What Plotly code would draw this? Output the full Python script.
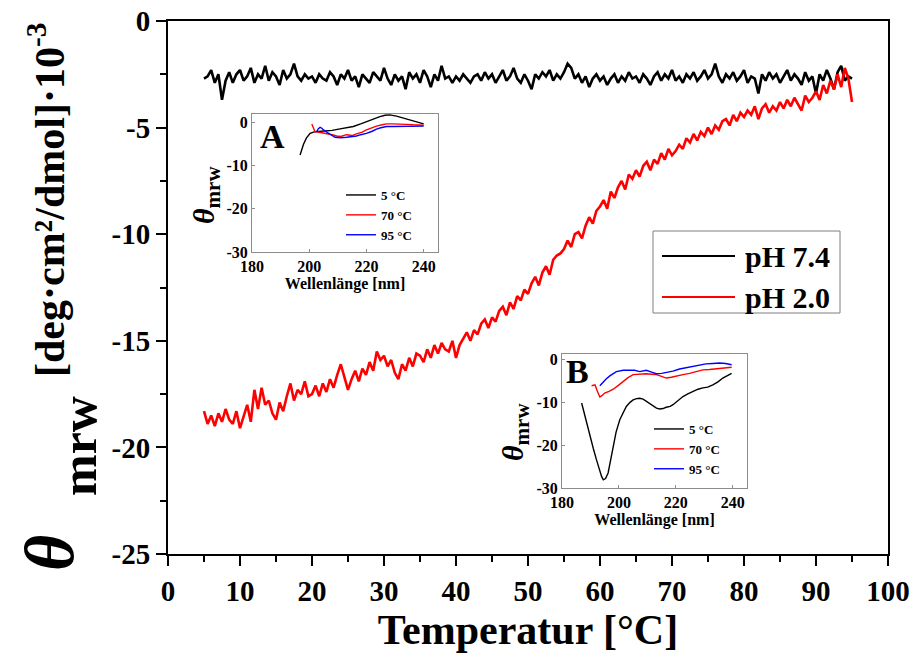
import numpy as np
import plotly.graph_objects as go

# ---------------- main data: theta_mrw vs temperature ----------------
temperature = np.arange(5.0, 95.01, 0.5)

ph74 = [
    -2.7, -2.6, -2.3, -2.9, -2.5, -3.7, -2.8, -2.4, -2.9, -2.5,
    -2.3, -2.8, -2.6, -2.2, -2.9, -2.5, -2.7, -2.1, -2.8, -2.4,
    -2.6, -3.0, -2.3, -2.7, -2.5, -2.0, -2.6, -2.8, -2.5, -2.7,
    -2.6, -2.9, -2.5, -2.7, -2.8, -2.4, -2.6, -3.0, -2.5, -2.7,
    -2.3, -2.8, -2.6, -3.1, -2.5, -2.7, -2.9, -2.4, -2.6, -2.8,
    -2.2, -2.7, -3.0, -2.5, -2.8, -2.6, -3.2, -2.4, -2.7, -2.5,
    -2.9, -2.3, -2.6, -3.1, -2.5, -2.8, -2.1, -2.7, -2.6, -2.9,
    -2.6, -2.8, -2.5, -2.7, -2.9, -2.6, -2.5, -2.8, -2.4, -2.7,
    -2.5, -2.9, -2.6, -2.3, -2.8, -2.6, -2.2, -2.7, -2.9, -2.5,
    -2.8, -3.2, -2.5, -2.7, -2.4, -2.6, -2.3, -2.8, -2.5, -2.7,
    -2.4, -2.0, -2.2, -2.7, -2.5, -2.9, -2.6, -3.1, -2.7, -2.5,
    -2.8, -2.6, -3.0, -2.7, -2.5, -2.9, -2.6, -2.8, -2.4, -2.7,
    -2.6, -2.9, -2.5, -2.7, -3.0, -2.6, -2.4, -2.8, -2.5, -2.7,
    -2.3, -2.8, -2.6, -2.9, -2.5, -2.7, -2.4, -2.8, -2.6, -2.3,
    -2.7, -2.5, -2.0, -2.6, -2.9, -2.5, -2.7, -2.4, -2.8, -2.6,
    -2.3, -2.9, -2.6, -2.7, -3.4, -2.5, -2.8, -2.4, -2.7, -2.5,
    -2.9, -2.6, -2.3, -2.8, -2.5, -2.7, -3.0, -2.4, -2.8, -2.6,
    -3.4, -2.5, -2.8, -2.3, -2.7, -3.2, -2.4, -2.1, -2.8, -2.6,
    -2.7,
]

ph20 = [
    -18.3, -18.9, -18.5, -19.0, -18.4, -18.8, -18.2, -18.7, -18.9, -18.3,
    -19.1, -18.6, -18.0, -18.8, -17.3, -18.2, -17.2, -18.0, -17.8, -18.4,
    -18.7, -17.9, -18.3, -17.6, -17.0, -17.8, -17.3, -17.5, -16.9, -17.6,
    -17.5, -17.1, -17.6, -17.0, -17.4, -16.8, -17.2, -16.6, -16.1, -16.7,
    -17.3, -16.8, -16.4, -16.9, -16.3, -16.6, -16.0, -16.4, -15.5, -15.9,
    -15.7, -16.2, -15.9, -16.5, -16.8, -16.1, -16.4, -15.8, -16.2, -15.6,
    -15.7, -16.0, -15.4, -15.8, -15.2, -15.6, -15.1, -15.4, -15.5, -15.0,
    -15.8, -15.2, -14.9, -14.6, -15.0, -14.5, -14.7, -14.2, -14.0, -14.4,
    -13.9, -14.1, -13.6, -13.4, -13.8, -13.2, -13.5, -12.9, -13.1, -12.6,
    -12.8, -12.3, -12.0, -12.4, -11.8, -11.5, -11.9, -11.2, -11.0, -10.9,
    -10.7, -10.3, -10.6, -10.0, -9.9, -10.2, -9.6, -9.2, -9.5, -8.9,
    -8.7, -8.4, -8.8, -8.0, -8.3, -7.8, -7.5, -7.9, -7.2, -7.4,
    -7.0, -7.3, -6.8, -6.6, -7.0, -6.5, -6.7, -6.2, -6.5, -6.0,
    -6.3, -6.1, -5.8, -6.0, -5.5, -5.7, -5.3, -5.6, -5.2, -5.4,
    -5.0, -5.3, -4.9, -5.1, -4.7, -4.6, -4.9, -4.4, -4.7, -4.3,
    -4.5, -4.2, -4.4, -4.0, -4.6, -4.1, -3.9, -4.3, -4.0, -4.2,
    -3.8, -4.1, -3.7, -4.0, -3.6, -3.9, -4.2, -3.5, -3.8, -3.6,
    -3.3, -3.7, -3.0, -3.4, -2.8, -3.2, -2.5, -3.1, -2.2, -2.7,
    -3.8,
]

main_names = ["pH 7.4", "pH 2.0"]
main_colors = ["#000000", "#ff0000"]

# tick values / labels (hyphen minus as in the original)
main_yticks = [0, -5, -10, -15, -20, -25]
main_yticklabels = ["0", "-5", "-10", "-15", "-20", "-25"]
inset_yticks = [0, -10, -20, -30]
inset_yticklabels = ["0", "-10", "-20", "-30"]

# ---------------- inset A (pH 7.4 spectra) ----------------
a5_x = [196.8, 198.0, 199.0, 200.3, 202.0, 205.0, 208.0, 210.3, 213.0, 215.4, 218.0, 220.0, 222.5, 224.7, 226.5, 228.1, 230.5, 232.0, 234.0, 237.0, 240.0]
a5_y = [-7.5, -5.0, -3.6, -2.5, -2.1, -2.0, -1.8, -1.5, -1.2, -0.9, -0.3, 0.2, 0.9, 1.4, 1.7, 1.8, 1.5, 1.2, 0.8, 0.2, -0.3]
a70_x = [200.9, 201.5, 202.0, 204.0, 206.1, 208.0, 209.6, 211.0, 213.0, 215.0, 216.5, 218.5, 220.0, 222.0, 223.5, 225.5, 227.0, 229.0, 231.6, 234.0, 236.3, 240.0]
a70_y = [-0.3, -1.2, -2.1, -2.3, -2.5, -2.8, -3.1, -3.2, -2.8, -3.0, -2.6, -2.2, -1.7, -1.2, -0.8, -0.5, -0.3, -0.3, -0.3, -0.4, -0.5, -0.6]
a95_x = [202.6, 203.2, 203.8, 204.4, 205.0, 206.0, 207.3, 209.0, 211.0, 213.0, 215.0, 216.5, 218.0, 220.0, 222.0, 223.5, 225.0, 227.0, 229.0, 231.6, 235.0, 240.0]
a95_y = [-2.1, -1.4, -1.1, -1.3, -1.7, -2.2, -2.7, -3.4, -3.5, -3.4, -3.3, -3.1, -2.8, -2.5, -2.0, -1.5, -1.2, -0.9, -0.9, -0.9, -0.9, -0.8]

# ---------------- inset B (pH 2.0 spectra) ----------------
b5_x = [186.9, 188.5, 189.8, 191.0, 192.1, 193.0, 193.9, 194.5, 195.3, 196.2, 197.0, 198.0, 199.0, 200.3, 201.5, 202.6, 204.0, 205.0, 206.2, 207.3, 208.5, 209.6, 211.0, 212.0, 213.2, 214.3, 215.5, 216.6, 218.0, 219.0, 220.8, 222.5, 224.2, 226.0, 227.8, 229.5, 231.2, 233.0, 234.8, 236.5, 238.0, 239.6]
b5_y = [-10.2, -14.5, -18.0, -20.8, -23.4, -25.6, -27.3, -28.1, -27.8, -26.5, -24.0, -20.3, -17.0, -14.1, -12.3, -11.0, -10.0, -9.5, -9.2, -9.1, -9.3, -9.8, -10.5, -11.0, -11.4, -11.6, -11.5, -11.2, -11.0, -10.6, -9.7, -8.7, -8.1, -7.5, -7.0, -6.7, -6.5, -6.0, -5.3, -4.4, -3.8, -3.3]
b70_x = [190.4, 191.6, 192.5, 193.3, 194.0, 195.0, 196.5, 198.0, 199.8, 201.5, 203.2, 205.0, 207.3, 209.6, 211.5, 213.1, 215.0, 216.6, 218.4, 220.1, 222.5, 224.8, 227.0, 229.5, 231.8, 234.1, 237.0, 239.6]
b70_y = [-6.2, -6.0, -7.6, -8.8, -8.5, -7.9, -7.5, -7.0, -6.1, -5.2, -4.3, -3.6, -3.5, -3.4, -3.5, -3.6, -4.0, -4.4, -4.2, -3.9, -3.6, -3.3, -2.9, -2.5, -2.4, -2.3, -2.1, -1.9]
b95_x = [193.3, 194.5, 195.5, 196.8, 198.0, 199.1, 201.5, 203.8, 205.5, 207.3, 208.5, 209.6, 211.5, 213.1, 215.0, 216.6, 219.0, 221.3, 223.5, 226.0, 228.5, 230.6, 233.0, 235.3, 237.5, 239.6]
b95_y = [-6.2, -5.2, -4.6, -3.9, -3.3, -2.9, -2.6, -2.5, -2.6, -2.9, -2.7, -2.6, -3.0, -3.4, -3.3, -3.1, -2.8, -2.3, -2.0, -1.6, -1.3, -1.1, -1.0, -0.9, -1.0, -1.3]

inset_names = ["5 °C", "70 °C", "95 °C"]
inset_colors = ["#000000", "#ff0000", "#0000ff"]

FONT = "Liberation Serif"

# window-pixel layout (the page body margin is removed by a post script)
W, H = 914, 664
ML, MT = 168, 21
MR = W - 888
MB = H - 554
PW, PH = W - ML - MR, H - MT - MB


def px(x):
    return (x - ML) / PW


def py(y):
    return (H - MB - y) / PH


fig = go.Figure()

# main curves
for yv, nm, col in zip([ph74, ph20], main_names, main_colors):
    fig.add_trace(go.Scatter(x=temperature, y=yv, mode="lines", name=nm,
                             line=dict(color=col, width=2.6), showlegend=False,
                             xaxis="x", yaxis="y"))

# inset A
for xs, ys, nm, col in zip([a5_x, a70_x, a95_x], [a5_y, a70_y, a95_y], inset_names, inset_colors):
    fig.add_trace(go.Scatter(x=xs, y=ys, mode="lines", name=nm, legend="legend2",
                             line=dict(color=col, width=1.4), xaxis="x2", yaxis="y2"))
# inset B
for xs, ys, nm, col in zip([b5_x, b70_x, b95_x], [b5_y, b70_y, b95_y], inset_names, inset_colors):
    fig.add_trace(go.Scatter(x=xs, y=ys, mode="lines", name=nm, legend="legend3",
                             line=dict(color=col, width=1.4), xaxis="x3", yaxis="y3"))

main_tick = dict(family=FONT, size=29, color="black", weight="bold")
inset_tick = dict(family=FONT, size=16, color="black", weight="bold")

main_axis = dict(showline=True, linecolor="black", linewidth=2, mirror=True,
                 ticks="outside", ticklen=10, tickwidth=2, tickcolor="black",
                 showgrid=False, zeroline=False, tickfont=main_tick,
                 automargin=False, ticklabeloverflow="allow")

inset_axis = dict(showline=True, linecolor="#8c8c8c", linewidth=1, mirror=True,
                  ticks="inside", ticklen=3, tickwidth=1, tickcolor="#8c8c8c",
                  showgrid=False, zeroline=False, tickfont=inset_tick, ticklabelstandoff=0,
                  automargin=False, ticklabeloverflow="allow")

A_dom_x = [px(252), px(438)]
A_dom_y = [py(252), py(114)]
B_dom_x = [px(562), px(747)]
B_dom_y = [py(488), py(354)]

fig.update_layout(
    width=W, height=H,
    margin=dict(l=ML, r=MR, t=MT, b=MB, autoexpand=False),
    paper_bgcolor="white", plot_bgcolor="white",
    font=dict(family=FONT, color="black"),
    xaxis=dict(main_axis, range=[0, 100], dtick=10, tick0=0,
               minor=dict(dtick=5, ticklen=6, tickwidth=2, tickcolor="black", ticks="outside"),
               title=dict(text="Temperatur [°C]", standoff=8,
                          font=dict(family=FONT, size=42, color="black", weight="bold"))),
    yaxis=dict(main_axis, range=[-25, 0], tickmode="array",
               tickvals=main_yticks, ticktext=main_yticklabels,
               minor=dict(dtick=2.5, tick0=0, ticklen=6, tickwidth=2, tickcolor="black", ticks="outside")),
    xaxis2=dict(inset_axis, domain=A_dom_x, anchor="y2", range=[180, 245], dtick=20, tick0=180,
                title=dict(text="Wellenlänge [nm]", standoff=2,
                           font=dict(family=FONT, size=16, color="black", weight="bold"))),
    yaxis2=dict(inset_axis, domain=A_dom_y, anchor="x2", range=[-30, 2], tickmode="array",
                tickvals=inset_yticks, ticktext=inset_yticklabels),
    xaxis3=dict(inset_axis, domain=B_dom_x, anchor="y3", range=[180, 245], dtick=20, tick0=180,
                title=dict(text="Wellenlänge [nm]", standoff=2,
                           font=dict(family=FONT, size=16, color="black", weight="bold"))),
    yaxis3=dict(inset_axis, domain=B_dom_y, anchor="x3", range=[-30, 1.2], tickmode="array",
                tickvals=inset_yticks, ticktext=inset_yticklabels),
    legend2=dict(x=px(341), y=py(180), xanchor="left", yanchor="top",
                 bgcolor="rgba(0,0,0,0)", borderwidth=0, tracegroupgap=0,
                 font=dict(family=FONT, size=13, color="black", weight="bold")),
    legend3=dict(x=px(649), y=py(414), xanchor="left", yanchor="top",
                 bgcolor="rgba(0,0,0,0)", borderwidth=0, tracegroupgap=0,
                 font=dict(family=FONT, size=13, color="black", weight="bold")),
)

# --- main legend (boxed, long sample lines) ---
fig.add_shape(type="rect", xref="paper", yref="paper",
              x0=px(653), x1=px(840), y0=py(313), y1=py(231),
              line=dict(color="#7f7f7f", width=1), fillcolor="white", layer="above")
for i, (nm, col) in enumerate(zip(main_names, main_colors)):
    yy = 256 + 41 * i
    fig.add_shape(type="line", xref="paper", yref="paper",
                  x0=px(662), x1=px(735), y0=py(yy), y1=py(yy),
                  line=dict(color=col, width=2.2), layer="above")
    fig.add_annotation(x=px(743), y=py(yy), xref="paper", yref="paper",
                       text=nm, showarrow=False, xanchor="left", yanchor="middle",
                       font=dict(family=FONT, size=30, color="black", weight="bold"))

# --- main y-axis title (theta, subscript, unit) ---
fig.add_annotation(x=px(49), y=py(553), xref="paper", yref="paper", text="<i>θ</i>",
                   textangle=-90, showarrow=False, xanchor="center", yanchor="middle",
                   font=dict(family=FONT, size=70, color="black", weight="bold"))
fig.add_annotation(x=px(79), y=py(446), xref="paper", yref="paper", text="mrw",
                   textangle=-90, showarrow=False, xanchor="center", yanchor="middle",
                   font=dict(family=FONT, size=50, color="black", weight="bold"))
fig.add_annotation(x=px(46), y=py(200), xref="paper", yref="paper",
                   text="[deg·cm²/dmol]·10<sup>-3</sup>",
                   textangle=-90, showarrow=False, xanchor="center", yanchor="middle",
                   font=dict(family=FONT, size=42, color="black", weight="bold"))

# --- inset labels ---
fig.add_annotation(x=px(272), y=py(136), xref="paper", yref="paper", text="A",
                   showarrow=False, xanchor="center", yanchor="middle",
                   font=dict(family=FONT, size=34, color="black", weight="bold"))
fig.add_annotation(x=px(577), y=py(372), xref="paper", yref="paper", text="B",
                   showarrow=False, xanchor="center", yanchor="middle",
                   font=dict(family=FONT, size=34, color="black", weight="bold"))
fig.add_annotation(x=px(206), y=py(195), xref="paper", yref="paper",
                   text="<i>θ</i><sub>mrw</sub>", textangle=-90,
                   showarrow=False, xanchor="center", yanchor="middle",
                   font=dict(family=FONT, size=30, color="black", weight="bold"))
fig.add_annotation(x=px(515), y=py(432), xref="paper", yref="paper",
                   text="<i>θ</i><sub>mrw</sub>", textangle=-90,
                   showarrow=False, xanchor="center", yanchor="middle",
                   font=dict(family=FONT, size=30, color="black", weight="bold"))

fig.write_html("out.html", config={"displayModeBar": False},
               post_script="document.body.style.margin='0';document.body.style.padding='0';")
